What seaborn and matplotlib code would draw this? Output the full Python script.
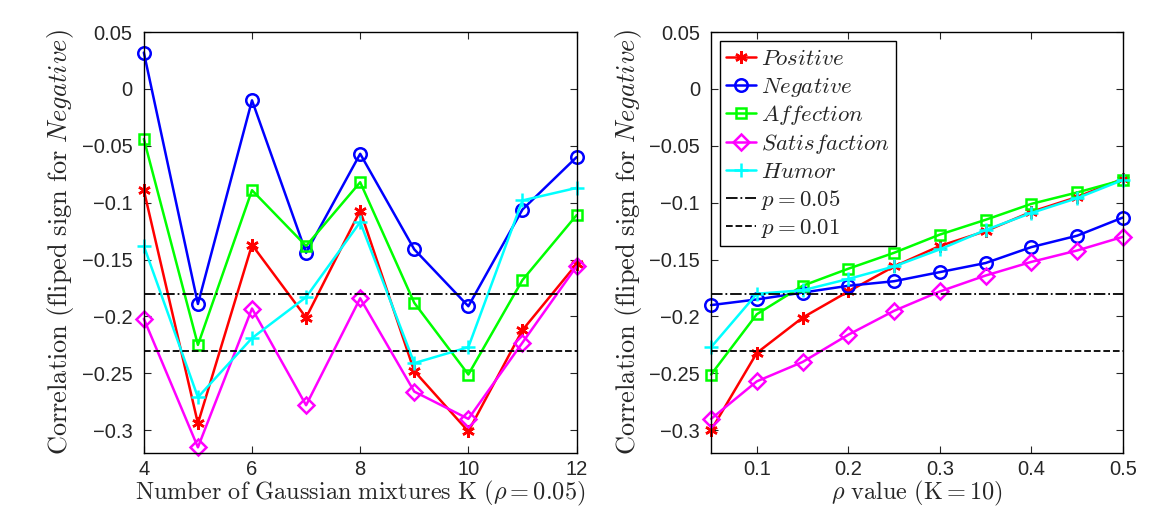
import matplotlib
matplotlib.use("Agg")
import matplotlib.pyplot as plt
import seaborn as sns
import numpy as np
import pandas as pd

# data
k_values = [4, 5, 6, 7, 8, 9, 10, 11, 12]
rho_values = [0.05, 0.1, 0.15, 0.2, 0.25, 0.3, 0.35, 0.4, 0.45, 0.5]

k_positive = [-0.089, -0.294, -0.137, -0.201, -0.107, -0.248, -0.301, -0.212, -0.154]
k_negative = [0.032, -0.189, -0.010, -0.144, -0.057, -0.141, -0.191, -0.106, -0.060]
k_affection = [-0.044, -0.225, -0.089, -0.138, -0.082, -0.188, -0.251, -0.168, -0.111]
k_satisfaction = [-0.202, -0.315, -0.193, -0.278, -0.184, -0.266, -0.290, -0.223, -0.156]
k_humor = [-0.138, -0.271, -0.219, -0.183, -0.117, -0.241, -0.227, -0.098, -0.087]

rho_positive = [-0.300, -0.232, -0.201, -0.178, -0.156, -0.138, -0.125, -0.108, -0.095, -0.079]
rho_negative = [-0.190, -0.185, -0.179, -0.173, -0.169, -0.161, -0.153, -0.139, -0.129, -0.113]
rho_affection = [-0.251, -0.198, -0.173, -0.158, -0.144, -0.128, -0.115, -0.101, -0.091, -0.080]
rho_satisfaction = [-0.290, -0.257, -0.240, -0.216, -0.195, -0.178, -0.164, -0.152, -0.142, -0.130]
rho_humor = [-0.227, -0.180, -0.177, -0.167, -0.156, -0.141, -0.124, -0.109, -0.096, -0.080]

series_names = ["Positive", "Negative", "Affection", "Satisfaction", "Humor"]
p05 = -0.18
p01 = -0.23

y_ticks = [0.05, 0, -0.05, -0.1, -0.15, -0.2, -0.25, -0.3]
y_ticklabels = ["0.05", "0", "\u22120.05", "\u22120.1", "\u22120.15", "\u22120.2", "\u22120.25", "\u22120.3"]
k_ticks = [4, 6, 8, 10, 12]
rho_ticks = [0.1, 0.2, 0.3, 0.4, 0.5]

sns.set_style("ticks")
plt.rcParams["font.family"] = ["Liberation Sans", "DejaVu Sans"]
plt.rcParams["mathtext.fontset"] = "cm"

colors = {"Positive": "#ff0000", "Negative": "#0000ff", "Affection": "#00ff00",
          "Satisfaction": "#ff00ff", "Humor": "#00ffff"}
markers = {"Positive": (6, 2, 0), "Negative": "o", "Affection": "s",
           "Satisfaction": "D", "Humor": "+"}
msizes = {"Positive": 9, "Negative": 9, "Affection": 7, "Satisfaction": 8, "Humor": 10}

fig = plt.figure(figsize=(11.6, 5.09), dpi=100)
ax1 = fig.add_axes([0.124, 0.11, 0.373, 0.827])
ax2 = fig.add_axes([0.613, 0.11, 0.355, 0.827])


def draw(ax, x, ys):
    for name, y in zip(series_names, ys):
        df = pd.DataFrame({"x": x, "y": y})
        sns.lineplot(data=df, x="x", y="y", ax=ax, color=colors[name],
                     marker=markers[name], markersize=msizes[name],
                     markerfacecolor="none", markeredgecolor=colors[name],
                     markeredgewidth=1.8, linewidth=1.8, clip_on=False,
                     label=r"$\mathit{" + name + "}$")
    ax.axhline(p05, color="black", linestyle="-.", linewidth=1.3, label=r"$p = 0.05$")
    ax.axhline(p01, color="black", linestyle="--", linewidth=1.3, label=r"$p = 0.01$")
    ax.set_ylim(-0.32, 0.05)
    ax.set_yticks(y_ticks)
    ax.set_yticklabels(y_ticklabels)
    ax.tick_params(direction="in", top=True, right=True, labelsize=14.5, length=5,
                   width=0.8, pad=8)
    ax.tick_params(axis="x", pad=5)
    for sp in ax.spines.values():
        sp.set_linewidth(1.0)
        sp.set_color("black")
    ax.set_ylabel(r"$\mathrm{Correlation\ (fliped\ sign\ for\ }Negative\mathrm{)}$",
                  fontsize=19, labelpad=4)


draw(ax1, k_values, [k_positive, k_negative, k_affection, k_satisfaction, k_humor])
ax1.set_xlim(4, 12)
ax1.set_xticks(k_ticks)
ax1.set_xlabel(r"$\mathrm{Number\ of\ Gaussian\ mixtures\ K\ }(\rho = 0.05)$",
               fontsize=17.5, labelpad=0)
ax1.get_legend().remove()

draw(ax2, rho_values, [rho_positive, rho_negative, rho_affection, rho_satisfaction, rho_humor])
ax2.set_xlim(0.05, 0.5)
ax2.set_xticks(rho_ticks)
ax2.set_xticklabels([str(v) for v in rho_ticks])
ax2.set_xlabel(r"$\rho\mathrm{\ value\ (K{=}10)}$", fontsize=17.5, labelpad=0)
leg = ax2.legend(loc="upper left", fontsize=16.5, frameon=True, fancybox=False,
                 framealpha=1, edgecolor="black", handlelength=1.3,
                 handletextpad=0.25, borderpad=0.25, labelspacing=0.2,
                 borderaxespad=0.4)
leg.get_frame().set_linewidth(1.0)

fig.savefig("out.png", dpi=100)
